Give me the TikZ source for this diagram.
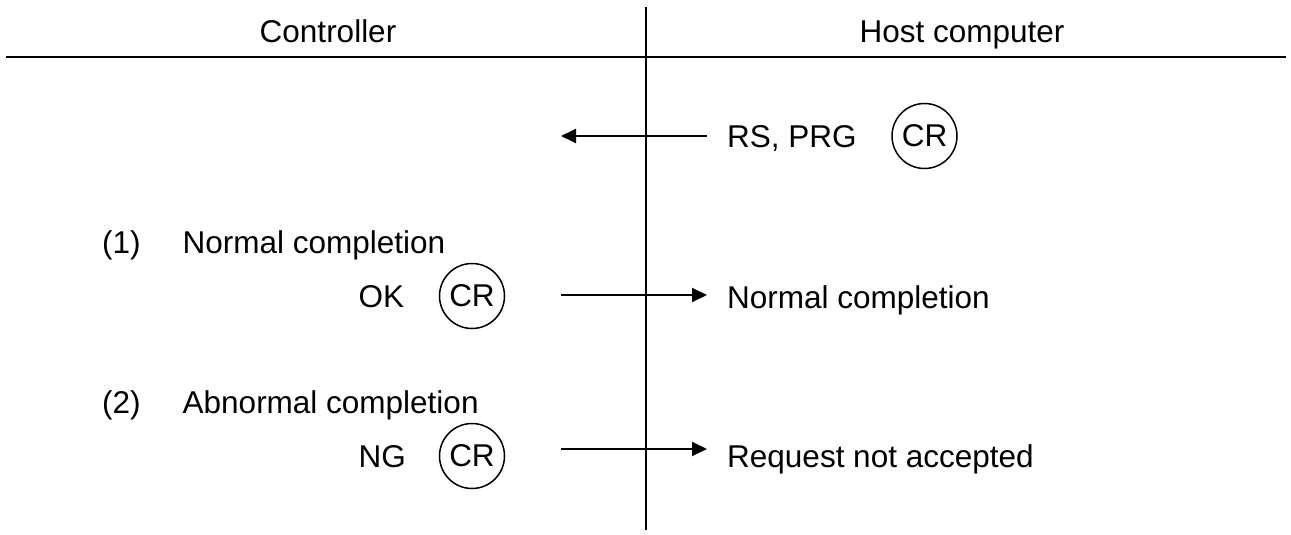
\documentclass[tikz,border=0pt]{standalone}
\usepackage{fontspec}
\setmainfont{Liberation Sans}
\usetikzlibrary{arrows.meta}

\tikzset{
    lbl/.style={inner sep=0pt, font=\fontsize{31.5}{38}\selectfont},
    crmark/.style={lbl, draw, circle, line width=1.5pt, minimum size=65pt},
    msg/.style={line width=2pt, -{Triangle[length=15pt, width=14pt]}}
}

\begin{document}
\begin{tikzpicture}[x=1pt, y=-1pt]
            \useasboundingbox (0,0) rectangle (1291,535);

            % frame lines
            \coordinate (vtop) at (646,7);
            \coordinate (vbot) at (646,530);
            \coordinate (hleft) at (6,57);
            \coordinate (hright) at (1286,57);
            \draw[line width=2pt] (vtop)--(vbot);
            \draw[line width=2pt] (hleft)--(hright);

            % headings
            \node[lbl, anchor=base] (ctrl) at (328,43) {Controller};
            \node[lbl, anchor=base] (host) at (962,43) {Host computer};

            % request
            \node[lbl, anchor=base west] (req) at (727,147) {RS, PRG};
            \node[crmark] (crreq) at (924.5,136) {CR};
            \coordinate (reqs) at (707,136);
            \coordinate (reqe) at (561,136);
            \draw[msg] (reqs)--(reqe);

            % normal completion
            \node[lbl, anchor=base west] (numone) at (102,253) {(1)};
            \node[lbl, anchor=base west] (normal) at (182.5,253) {Normal completion};
            \node[lbl, anchor=base west] (ok) at (358.5,307) {OK};
            \node[crmark] (crok) at (472,296) {CR};
            \coordinate (oks) at (561,295);
            \coordinate (oke) at (707,295);
            \draw[msg] (oks)--(oke);
            \node[lbl, anchor=base west] (okres) at (727,308) {Normal completion};

            % abnormal completion
            \node[lbl, anchor=base west] (numtwo) at (102,413) {(2)};
            \node[lbl, anchor=base west] (abnormal) at (182.5,413) {Abnormal completion};
            \node[lbl, anchor=base west] (ng) at (358.5,467) {NG};
            \node[crmark] (crng) at (472,456) {CR};
            \coordinate (ngs) at (561,449);
            \coordinate (nge) at (707,449);
            \draw[msg] (ngs)--(nge);
            \node[lbl, anchor=base west] (ngres) at (727,467) {Request not accepted};

        \end{tikzpicture}
\end{document}
